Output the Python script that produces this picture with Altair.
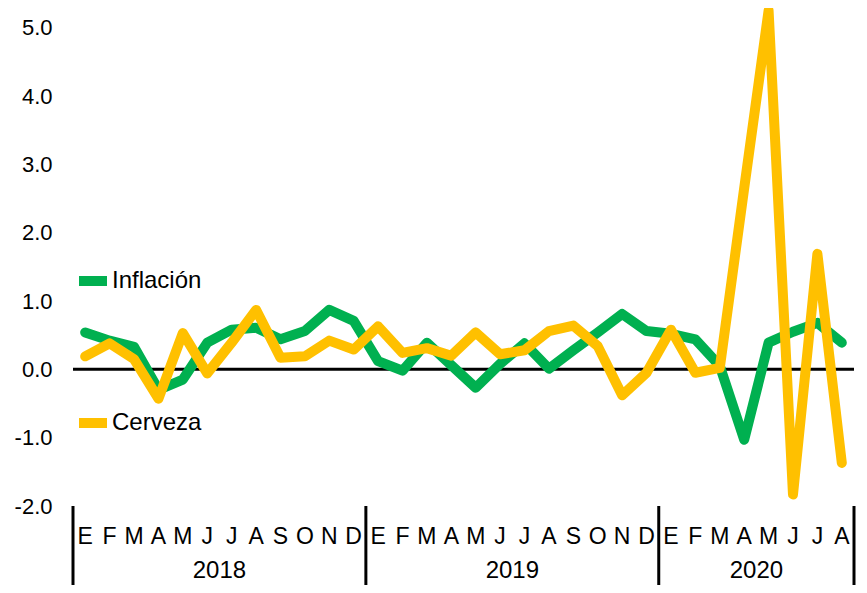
import altair as alt
import pandas as pd

# ---- data ----
month_letters = ["E", "F", "M", "A", "M", "J", "J", "A", "S", "O", "N", "D"]
years = ["2018", "2019", "2020"]
months_per_year = [12, 12, 8]

inflacion = [
    0.54, 0.42, 0.33, -0.30, -0.15, 0.39, 0.58, 0.61, 0.44, 0.56, 0.87, 0.71,
    0.12, -0.02, 0.39, 0.06, -0.27, 0.08, 0.38, 0.01, 0.28, 0.54, 0.81, 0.56,
    0.52, 0.44, 0.05, -1.03, 0.39, 0.55, 0.68, 0.39,
]
cerveza = [
    0.19, 0.38, 0.15, -0.43, 0.53, -0.06, 0.39, 0.87, 0.17, 0.19, 0.42, 0.29,
    0.63, 0.24, 0.31, 0.20, 0.54, 0.22, 0.28, 0.56, 0.64, 0.34, -0.38, -0.05,
    0.58, -0.05, 0.02, 2.65, 5.25, -1.83, 1.69, -1.37,
]
series_names = ["Inflación", "Cerveza"]
series_colors = ["#00B050", "#FFC000"]

# ---- tables ----
rows = []
for y, n in zip(years, months_per_year):
    for m in range(n):
        rows.append({"year": y, "letter": month_letters[m]})
months = pd.DataFrame(rows)
months["idx"] = range(len(months))

long = pd.concat([
    months.assign(serie=series_names[0], value=inflacion),
    months.assign(serie=series_names[1], value=cerveza),
])

year_df = months.groupby("year", as_index=False)["idx"].mean()
seps = sorted(set((months.groupby("year")["idx"].min() - 0.5).tolist()
                  + [months["idx"].max() + 0.5]))
sep_df = pd.DataFrame({"pos": seps})

W, H = 781, 492
FONT = "Liberation Sans"

xscale = alt.Scale(domain=[-0.5, len(months) - 0.5], nice=False, zero=False)
yscale = alt.Scale(domain=[-2, 5.2], nice=False, zero=False)
cscale = alt.Scale(domain=series_names, range=series_colors)
legend = alt.Legend(
    orient="none", legendX=1, legendY=248, direction="vertical", title=None,
    symbolType="stroke", symbolSize=784, symbolStrokeWidth=10,
    labelFontSize=24, labelFont=FONT, labelColor="black", rowPadding=102,
    labelOffset=0, padding=0, labelLimit=0,
)

zero = alt.Chart(pd.DataFrame({"v": [0]})).mark_rule(
    color="black", strokeWidth=3
).encode(y=alt.Y("v:Q", scale=yscale, axis=alt.Axis(
    values=[-2, -1, 0, 1, 2, 3, 4, 5],
    labelExpr="replace(format(datum.value, '.1f'), '\u2212', '-')",
    labelFontSize=22, labelFont=FONT, labelColor="black", ticks=False,
    domain=False, grid=False, labelPadding=21, title=None)))


def line_layer(name):
    return alt.Chart(long).transform_filter(
        alt.datum.serie == name
    ).mark_line(strokeWidth=10, strokeCap="round", strokeJoin="round").encode(
        x=alt.X("idx:Q", scale=xscale, axis=None),
        y=alt.Y("value:Q", scale=yscale),
        color=alt.Color("serie:N", scale=cscale, legend=legend),
    )


month_text = alt.Chart(months).mark_text(
    font=FONT, fontSize=23, baseline="middle", color="black"
).encode(x=alt.X("idx:Q", scale=xscale), y=alt.value(522.5), text="letter:N")

year_text = alt.Chart(year_df).mark_text(
    font=FONT, fontSize=24, baseline="middle", color="black"
).encode(x=alt.X("idx:Q", scale=xscale), y=alt.value(557), text="year:N")

sep = alt.Chart(sep_df).mark_rule(color="black", strokeWidth=3).encode(
    x=alt.X("pos:Q", scale=xscale), y=alt.value(H), y2=alt.value(H + 90)
)

chart = alt.layer(
    zero, line_layer("Inflación"), line_layer("Cerveza"),
    month_text, year_text, sep,
).properties(
    width=W, height=H,
    autosize=alt.AutoSizeParams(type="none"),
    padding={"left": 65, "top": 6, "right": 5, "bottom": 79},
    background="white",
).configure_view(stroke=None)

chart.save("out.html", embed_options={"renderer": "svg", "actions": False})
